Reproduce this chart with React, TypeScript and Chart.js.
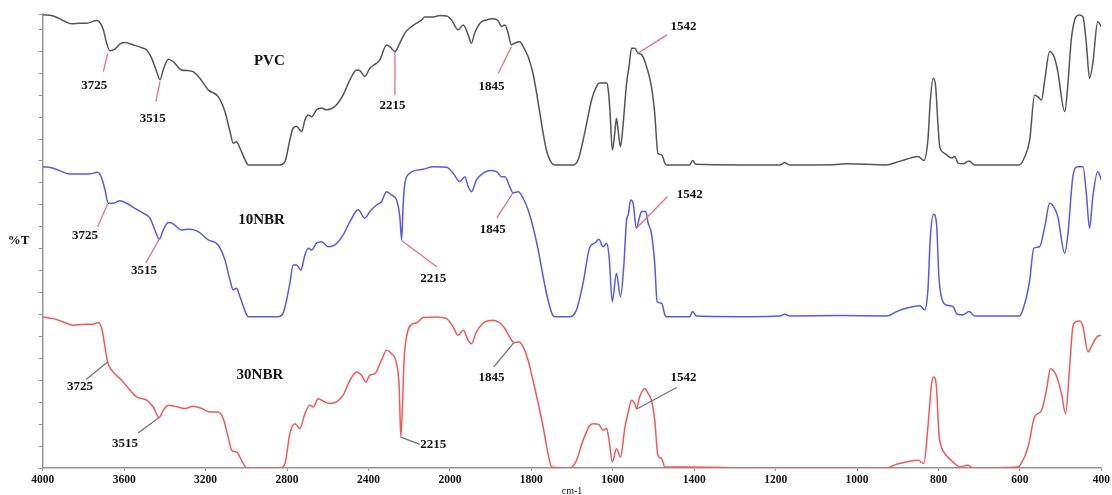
import React, { useEffect, useRef } from "react";
import { Chart, registerables } from "chart.js";

Chart.register(...registerables);

// ---- data (wavenumber in cm-1, transmittance in band units above each curve's floor) ----
const SERIES_NAMES = ["PVC", "10NBR", "30NBR"];

const PVC_WN = [4000,3948,3899,3858,3817,3784,3735,3719,3702,3686,3670,3645,3620,3596,3555,3506,3489,3465,3440,3424,3408,3383,3359,3318,3285,3261,3228,3187,3138,3105,3080,3064,3048,3031,2998,2991,2835,2810,2786,2770,2753,2728,2712,2696,2679,2655,2630,2606,2565,2524,2491,2458,2442,2418,2393,2360,2344,2311,2295,2270,2246,2221,2188,2164,2139,2123,2082,2049,2016,1996,1980,1967,1955,1947,1939,1926,1910,1894,1882,1873,1865,1857,1849,1841,1828,1820,1808,1796,1787,1779,1771,1763,1750,1742,1697,1685,1669,1652,1640,1632,1615,1611,1607,1601,1595,1591,1587,1581,1575,1566,1560,1554,1546,1538,1529,1517,1505,1497,1489,1480,1472,1468,1411,1404,1396,1288,1190,1178,1165,1059,1026,928,903,879,850,836,826,820,813,807,801,797,785,768,760,752,740,725,711,601,588,576,564,556,547,539,527,515,507,490,482,474,462,453,445,437,429,421,409,400];
const PVC_T = [68.4,67.9,65.8,64.3,64.6,64.6,65.8,64.9,61.6,55.5,52.1,52.8,55.2,55.8,54.7,53.2,52.4,48.7,42.5,38.8,43.3,48.2,47.1,43.3,43.0,42.5,39.5,34.2,31.1,24.3,15.2,9.9,10.6,7.6,0.8,0,0,1.5,11.4,16.7,17.5,15.2,20.5,22.8,22.0,25.1,25.9,25.1,26.6,31.9,38.8,43.3,43.0,40.3,44.1,46.4,47.9,54.7,53.9,51.7,55.5,60.1,63.1,64.6,66.1,67.4,67.4,68.1,67.9,66.1,61.6,63.8,59.3,55.5,60.1,64.6,66.1,66.6,65.8,63.1,63.8,60.1,54.7,55.5,56.2,53.9,49.4,41.8,32.7,23.6,14.5,6.8,0.8,0,0,2.3,14.5,29.6,35.7,37.3,37.3,34.2,25.1,6.8,14.5,21.3,16.0,8.3,17.5,37.3,44.8,53.2,53.2,50.9,50.2,44.8,35.7,23.6,5.3,4.6,0.8,0,0,2.0,0.3,0,0,1.0,0,0.1,0.5,0,1.2,2.6,3.8,2.0,11.4,29.6,39.5,35.7,17.5,8.3,5.3,3.1,3.8,0.8,0.5,1.8,0,0,3.8,11.4,31.9,31.1,29.6,38.8,51.7,48.7,42.5,24.3,37.3,57.0,67.6,68.4,67.4,55.5,39.5,46.4,65.3,63.1];

const NBR10_WN = [4000,3948,3866,3817,3768,3732,3710,3694,3678,3653,3620,3588,3547,3506,3473,3449,3428,3408,3383,3359,3318,3277,3236,3187,3138,3105,3080,3064,3048,3031,2998,2991,2843,2819,2786,2770,2753,2732,2712,2696,2679,2655,2630,2598,2565,2524,2491,2450,2418,2393,2360,2336,2311,2287,2262,2246,2237,2230,2221,2197,2172,2131,2082,2016,1992,1976,1963,1955,1947,1935,1918,1902,1885,1873,1865,1853,1845,1832,1820,1808,1796,1783,1771,1759,1748,1742,1705,1689,1673,1656,1644,1634,1624,1615,1609,1601,1591,1581,1573,1566,1562,1556,1550,1542,1534,1529,1519,1513,1505,1497,1491,1480,1472,1468,1411,1404,1394,1264,1190,1178,1165,1043,928,903,879,846,834,826,820,812,805,799,793,781,764,755,740,725,711,601,588,576,566,552,539,527,515,507,490,482,470,458,445,437,429,421,409,400];
const NBR10_T = [68.4,67.7,65.1,65.1,65.1,65.8,63.1,57.8,51.7,51.7,52.9,51.7,49.4,47.2,44.9,39.5,35.3,39.5,42.9,42.3,39.5,39.9,38.8,35.0,32.7,25.9,16.7,12.2,13.0,9.1,0.8,0,0,1.6,15.2,23.6,23.6,21.3,28.1,31.2,30.4,33.5,34.2,31.9,32.7,37.3,43.3,48.7,44.9,47.9,50.9,52.4,57.0,55.5,53.2,45.6,35.0,50.2,60.8,65.4,66.6,67.2,68.4,68.1,65.4,61.6,63.8,59.3,57.0,62.3,65.4,66.6,66.1,63.8,63.8,59.3,56.5,57.0,54.0,48.7,41.0,30.4,18.2,7.6,0.8,0,0,3.1,15.2,31.9,33.5,35.3,31.9,33.5,27.4,6.8,19.8,9.1,22.8,44.1,46.4,53.2,51.7,40.3,45.6,47.9,47.9,42.6,38.0,24.4,6.8,6.1,0.8,0,0,2.3,0.3,0,0.3,1.1,0.3,0.5,0.3,2.3,3.8,5.0,3.1,12.2,36.5,46.7,42.6,18.2,9.1,5.3,4.6,1.2,0.8,2.3,0.3,0.3,6.1,16.7,31.2,31.9,41.0,51.7,49.4,45.6,28.9,38.0,63.8,68.4,68.4,56.3,40.3,54.7,66.1,62.3];

const NBR30_WN = [4000,3948,3899,3850,3792,3752,3730,3710,3694,3681,3661,3612,3571,3539,3489,3457,3428,3408,3383,3350,3301,3261,3219,3179,3138,3113,3089,3072,3048,3023,2998,2835,2810,2786,2761,2737,2712,2688,2671,2647,2614,2589,2557,2524,2491,2458,2434,2413,2393,2368,2347,2336,2311,2287,2262,2249,2241,2232,2225,2213,2188,2164,2131,2065,2016,1992,1980,1967,1955,1947,1935,1914,1894,1877,1865,1853,1843,1830,1820,1808,1796,1783,1771,1759,1750,1705,1689,1673,1656,1648,1634,1624,1615,1609,1601,1591,1581,1570,1562,1554,1546,1542,1534,1521,1513,1505,1497,1489,1480,1472,1403,1264,928,903,879,850,836,826,817,812,805,799,793,781,764,748,728,715,605,597,580,564,547,535,525,511,498,488,478,470,463,453,445,433,421,409,400];
const NBR30_T = [68.9,68.1,66.6,65.1,65.5,65.5,66.3,63.6,55.2,48.3,44.6,40.0,35.4,32.4,30.9,27.8,23.0,26.3,28.6,28.1,27.1,28.1,27.1,25.5,25.5,22.5,14.1,8.1,7.3,3.5,0,0,2.0,15.7,20.2,18.0,24.8,28.6,27.8,31.6,30.1,29.4,30.1,33.2,40.0,43.8,42.3,39.2,42.3,43.0,46.8,49.1,53.7,52.2,47.6,36.9,14.1,30.9,49.1,59.7,65.5,66.1,68.6,68.9,68.1,64.3,60.5,62.8,58.2,56.7,62.0,66.6,67.4,66.1,63.6,59.7,57.2,57.5,55.2,49.1,40.0,29.4,18.7,6.6,0.5,0,3.5,12.6,19.5,20.2,19.9,17.2,18.0,12.6,2.7,8.8,5.0,18.7,25.5,30.9,29.4,27.1,32.4,36.2,33.9,30.9,21.8,5.8,4.3,0.5,0.5,0,0,1.7,2.7,3.5,2.0,18.7,38.5,41.5,36.9,15.7,9.6,5.8,2.7,0.5,1.2,0,0.5,2.0,9.6,23.3,26.3,35.4,45.3,42.3,33.9,24.8,46.1,64.3,66.6,67.0,64.3,52.9,56.7,60.1,60.5];

const X_TICKS = [4000, 3600, 3200, 2800, 2400, 2000, 1800, 1600, 1400, 1200, 1000, 800, 600, 400];

// peak labels: [series, text, leader start (wn, T), leader end (wn, T), text centre (wn, T)]
const PEAK_LABELS: [number, string, number[], number[], number[]][] = [
  [0, "3725", [3681, 50.9], [3702, 42.5], [3747, 36.0]],
  [0, "3515", [3424, 38.0], [3444, 28.9], [3460, 21.3]],
  [0, "2215", [2270, 51.5], [2270, 31.9], [2282, 26.9]],
  [0, "1845", [1849, 53.9], [1881, 41.8], [1898, 35.7]],
  [0, "1542", [1538, 50.9], [1467, 59.3], [1426, 63.1]],
  [1, "3725", [3681, 51.4], [3730, 41.0], [3792, 36.9]],
  [1, "3515", [3428, 35.3], [3494, 24.4], [3503, 21.0]],
  [1, "2215", [2237, 34.7], [2065, 22.8], [2082, 17.5]],
  [1, "1845", [1845, 56.5], [1885, 44.9], [1895, 39.5]],
  [1, "1542", [1542, 40.3], [1466, 54.7], [1411, 55.5]],
  [2, "3725", [3681, 48.3], [3787, 40.3], [3817, 37.3]],
  [2, "3515", [3428, 23.0], [3531, 16.0], [3596, 11.1]],
  [2, "2215", [2241, 14.1], [2148, 10.8], [2082, 10.8]],
  [2, "1845", [1843, 57.2], [1892, 46.1], [1898, 41.2]],
  [2, "1542", [1542, 26.8], [1443, 36.7], [1426, 41.2]],
];
const NAME_POS = [[2887, 47.1], [2925, 44.1], [2933, 42.3]];

// ---- layout / style ----
const SERIES_OFFSET = [138.2, 69.0, 0];
const SERIES_COLOR = ["rgb(85,85,85)", "rgb(88,88,238)", "rgb(242,88,88)"];
const LEADER_COLOR = ["rgb(236,110,122)", "rgb(236,110,122)", "rgb(115,115,115)"];
const FONT = "'Liberation Serif', 'Times New Roman', serif";

// piecewise wavenumber axis: 4000-2000 compressed 2x relative to 2000-400
const toU = (wn: number) => (wn >= 2000 ? (4000 - wn) / 2 : 1000 + (2000 - wn));

const overlayPlugin = {
  id: "overlay",
  afterDatasetsDraw(chart: any) {
    const { ctx, chartArea, scales } = chart;
    const xs = scales.x, ys = scales.y;
    const px = (wn: number) => xs.getPixelForValue(toU(wn));
    const py = (s: number, t: number) => ys.getPixelForValue(SERIES_OFFSET[s] + t);
    ctx.save();
    ctx.textAlign = "center";
    ctx.textBaseline = "middle";
    PEAK_LABELS.forEach(([s, label, a, b, t]) => {
      ctx.strokeStyle = LEADER_COLOR[s];
      ctx.lineWidth = 1.3;
      ctx.beginPath();
      ctx.moveTo(px(a[0]), py(s, a[1]));
      ctx.lineTo(px(b[0]), py(s, b[1]));
      ctx.stroke();
      ctx.fillStyle = "#111";
      ctx.font = `bold 13px ${FONT}`;
      ctx.fillText(label, px(t[0]), py(s, t[1]));
    });
    SERIES_NAMES.forEach((name, s) => {
      ctx.fillStyle = "#111";
      ctx.font = `bold 15px ${FONT}`;
      ctx.fillText(name, px(NAME_POS[s][0]), py(s, NAME_POS[s][1]));
    });
    ctx.font = `bold 13px ${FONT}`;
    ctx.fillStyle = "#111";
    ctx.fillText("%T", chartArea.left - 24, (chartArea.top + chartArea.bottom) / 2);
    ctx.restore();
  },
};

export default function App() {
  const ref = useRef<HTMLCanvasElement | null>(null);
  useEffect(() => {
    if (!ref.current) return;
    const series = [
      [PVC_WN, PVC_T],
      [NBR10_WN, NBR10_T],
      [NBR30_WN, NBR30_T],
    ];
    const chart = new Chart(ref.current, {
      type: "line",
      data: {
        datasets: series.map(([wn, t], s) => ({
          label: SERIES_NAMES[s],
          data: wn.map((w, i) => ({ x: toU(w), y: SERIES_OFFSET[s] + t[i] })),
          borderColor: SERIES_COLOR[s],
          borderWidth: 1.5,
          pointRadius: 0,
          fill: false,
          cubicInterpolationMode: "monotone" as const,
        })),
      },
      options: {
        animation: false,
        responsive: false,
        devicePixelRatio: 1,
        layout: { padding: { top: 14, right: 10.3, left: 0, bottom: 0 } },
        plugins: { legend: { display: false }, tooltip: { enabled: false } },
        scales: {
          x: {
            type: "linear",
            min: 0,
            max: 2600,
            afterBuildTicks: (axis: any) => {
              axis.ticks = X_TICKS.map((v) => ({ value: toU(v) }));
            },
            ticks: {
              autoSkip: false,
              maxRotation: 0,
              padding: 2,
              color: "#111",
              font: { family: FONT, size: 11.5, weight: "bold" },
              callback: (_v: any, i: number) => String(X_TICKS[i]),
            },
            grid: { drawOnChartArea: false, tickLength: 3, color: "rgb(150,150,150)" },
            border: { color: "rgb(150,150,150)", width: 1.5 },
            title: { display: true, text: "cm-1", color: "#111", font: { family: FONT, size: 10 }, padding: { top: 0, bottom: -2 } },
            afterFit: (s: any) => { s.height = 27; },
          },
          y: {
            min: 0,
            max: 207,
            ticks: { display: false, stepSize: 10 },
            grid: { drawOnChartArea: false, tickLength: 4, color: "rgb(150,150,150)" },
            border: { color: "rgb(150,150,150)", width: 1.5 },
            afterFit: (s: any) => { s.width = 42.7; },
          },
        },
      },
      plugins: [overlayPlugin],
    });
    return () => chart.destroy();
  }, []);
  return (
    <div style={{ position: "fixed", left: 0, top: 0, width: 1112, height: 495, background: "#fff" }}>
      <canvas ref={ref} width={1112} height={495} style={{ display: "block" }} />
    </div>
  );
}
